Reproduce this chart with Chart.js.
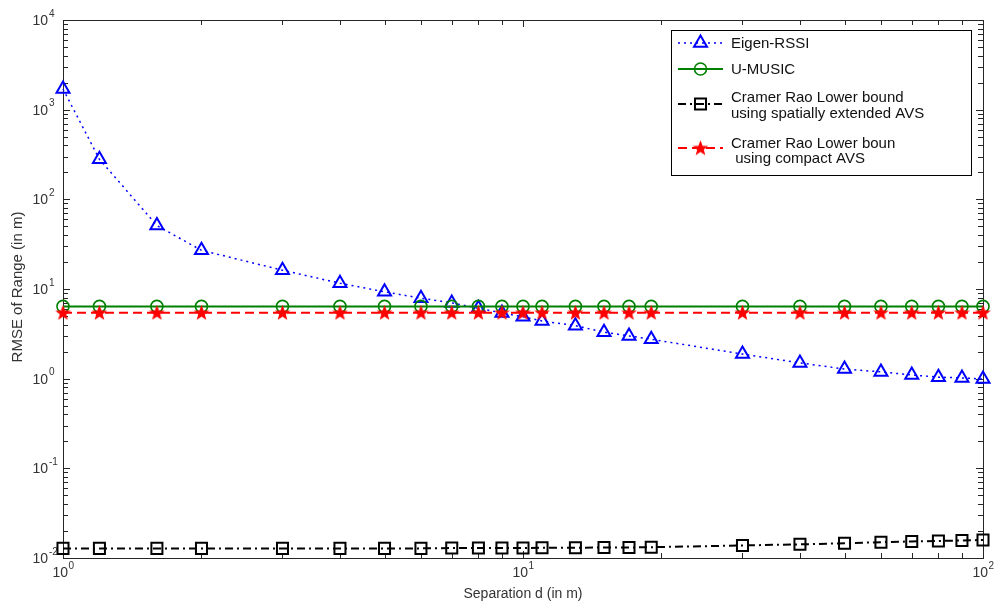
<!DOCTYPE html>
<html><head><meta charset="utf-8">
<script src="https://cdn.jsdelivr.net/npm/chart.js@4.4.1/dist/chart.umd.min.js"></script>
<style>html,body{margin:0;padding:0;background:#fff}canvas{display:block}</style>
</head><body>
<canvas id="c" width="1000" height="610"></canvas>
<script>
// ---- data ----
const separation = [1, 1.2, 1.6, 2, 3, 4, 5, 6, 7, 8, 9, 10, 11, 13, 15, 17, 19, 30, 40, 50, 60, 70, 80, 90, 100];
const eigenRSSI = [1700, 280, 51, 27, 16.2, 11.6, 9.3, 7.9, 7.0, 6.1, 5.4, 4.9, 4.4, 3.9, 3.3, 3.0, 2.75, 1.88, 1.5, 1.28, 1.19, 1.1, 1.04, 1.02, 0.99];
const uMusic = [6.4, 6.4, 6.4, 6.4, 6.4, 6.4, 6.4, 6.4, 6.4, 6.4, 6.4, 6.4, 6.4, 6.4, 6.4, 6.4, 6.4, 6.4, 6.4, 6.4, 6.4, 6.4, 6.4, 6.4, 6.4];
const crlbExtended = [0.0128, 0.0128, 0.0128, 0.0128, 0.0128, 0.0128, 0.0128, 0.0128, 0.0129, 0.0129, 0.0129, 0.0129, 0.013, 0.013, 0.0131, 0.0131, 0.0132, 0.0138, 0.0142, 0.0146, 0.015, 0.0153, 0.0155, 0.0157, 0.0159];
const crlbCompact = [5.45, 5.45, 5.45, 5.45, 5.45, 5.45, 5.45, 5.45, 5.45, 5.45, 5.45, 5.45, 5.45, 5.45, 5.45, 5.45, 5.45, 5.45, 5.45, 5.45, 5.45, 5.45, 5.45, 5.45, 5.45];
const seriesLabels = ['Eigen-RSSI', 'U-MUSIC', 'Cramer Rao Lower bound\nusing spatially extended AVS', 'Cramer Rao Lower boun\n using compact AVS'];
const xTickExponents = [0, 1, 2];
const yTickExponents = [-2, -1, 0, 1, 2, 3, 4];
const xTitle = 'Separation d (in m)';
const yTitle = 'RMSE of Range (in m)';

// ---- pentagram marker ----
function makeStar(color, R) {
  const s = Math.ceil(R * 2 + 4);
  const cv = document.createElement('canvas');
  cv.width = s; cv.height = s;
  const c = cv.getContext('2d');
  const cx = s / 2, cy = s / 2 + 0.5, r = R * 0.42;
  c.beginPath();
  for (let i = 0; i < 10; i++) {
    const a = -Math.PI / 2 + i * Math.PI / 5;
    const rr = i % 2 === 0 ? R : r;
    const px = cx + rr * Math.cos(a), py = cy + rr * Math.sin(a);
    i === 0 ? c.moveTo(px, py) : c.lineTo(px, py);
  }
  c.closePath();
  c.fillStyle = color; c.fill();
  c.strokeStyle = color; c.lineWidth = 1.2; c.stroke();
  return cv;
}
const starImg = makeStar('#ff0000', 6.5);

const pts = arr => separation.map((x, i) => ({x, y: arr[i]}));

const datasets = [
  {label: seriesLabels[0], data: pts(eigenRSSI), borderColor: '#0000ff', backgroundColor: 'rgba(0,0,0,0)',
   borderWidth: 1.5, borderDash: [2, 4], pointStyle: 'triangle', pointRadius: 7.5, pointBorderWidth: 2,
   pointBorderColor: '#0000ff', pointBackgroundColor: 'rgba(0,0,0,0)', order: 3},
  {label: seriesLabels[1], data: pts(uMusic), borderColor: '#008000', backgroundColor: 'rgba(0,0,0,0)',
   borderWidth: 2, pointStyle: 'circle', pointRadius: 6, pointBorderWidth: 1.6,
   pointBorderColor: '#008000', pointBackgroundColor: 'rgba(0,0,0,0)', order: 2},
  {label: seriesLabels[2], data: pts(crlbExtended), borderColor: '#000000', backgroundColor: 'rgba(0,0,0,0)',
   borderWidth: 2, borderDash: [8, 4, 2, 4], pointStyle: 'rect', pointRadius: 7.8, pointBorderWidth: 2,
   pointBorderColor: '#000000', pointBackgroundColor: 'rgba(0,0,0,0)', order: 1},
  {label: seriesLabels[3], data: pts(crlbCompact), borderColor: '#ff0000', backgroundColor: 'rgba(0,0,0,0)',
   borderWidth: 2, borderDash: [9, 5], pointStyle: starImg, pointRadius: 6.5,
   pointBorderColor: '#ff0000', pointBackgroundColor: '#ff0000', order: 0}
];
datasets.forEach(d => { d.clip = false; d.tension = 0; d.fill = false; });

const FONT = '"Liberation Sans", Arial, Helvetica, sans-serif';

function drawMarker(ctx, ds, x, y) {
  const st = ds.pointStyle, r = ds.pointRadius;
  ctx.save();
  ctx.setLineDash([]);
  ctx.strokeStyle = ds.pointBorderColor;
  ctx.lineWidth = ds.pointBorderWidth || 1;
  ctx.beginPath();
  if (st === 'triangle') {
    let a = 0;
    ctx.moveTo(x + Math.sin(a) * r, y - Math.cos(a) * r);
    a += 2 * Math.PI / 3; ctx.lineTo(x + Math.sin(a) * r, y - Math.cos(a) * r);
    a += 2 * Math.PI / 3; ctx.lineTo(x + Math.sin(a) * r, y - Math.cos(a) * r);
    ctx.closePath(); ctx.stroke();
  } else if (st === 'circle') {
    ctx.arc(x, y, r, 0, Math.PI * 2); ctx.stroke();
  } else if (st === 'rect') {
    const s = r * Math.SQRT1_2; ctx.rect(x - s, y - s, 2 * s, 2 * s); ctx.stroke();
  } else if (st instanceof HTMLCanvasElement) {
    ctx.drawImage(st, x - st.width / 2, y - st.height / 2);
  }
  ctx.restore();
}

const axesPlugin = {
  id: 'matlabAxes',
  beforeDatasetsDraw(chart) {
    const {ctx, chartArea: a, scales: {x, y}} = chart;
    ctx.save();
    ctx.strokeStyle = '#262626';
    ctx.lineWidth = 1;
    ctx.strokeRect(Math.round(a.left) + 0.5, Math.round(a.top) + 0.5, Math.round(a.right - a.left), Math.round(a.bottom - a.top));
    ctx.beginPath();
    for (let e = xTickExponents[0]; e <= xTickExponents[xTickExponents.length - 1]; e++) {
      for (let m = 1; m <= 9; m++) {
        const v = m * Math.pow(10, e);
        if (v < x.min - 1e-9 || v > x.max + 1e-9) continue;
        const px = Math.round(x.getPixelForValue(v)) + 0.5;
        const len = m === 1 ? 7 : 5;
        ctx.moveTo(px, a.bottom); ctx.lineTo(px, a.bottom - len);
        ctx.moveTo(px, a.top); ctx.lineTo(px, a.top + len);
      }
    }
    for (let e = yTickExponents[0]; e <= yTickExponents[yTickExponents.length - 1]; e++) {
      for (let m = 1; m <= 9; m++) {
        const v = m * Math.pow(10, e);
        if (v < y.min * 0.999999 || v > y.max * 1.000001) continue;
        const py = Math.round(y.getPixelForValue(v)) + 0.5;
        const len = m === 1 ? 7 : 5;
        ctx.moveTo(a.left, py); ctx.lineTo(a.left + len, py);
        ctx.moveTo(a.right, py); ctx.lineTo(a.right - len, py);
      }
    }
    ctx.stroke();

    // tick labels
    ctx.fillStyle = '#333333';
    ctx.textBaseline = 'middle';
    yTickExponents.forEach(e => {
      const py = y.getPixelForValue(Math.pow(10, e));
      ctx.font = '14px ' + FONT;
      ctx.textAlign = 'right';
      ctx.fillText('10', 48, py + 1);
      ctx.font = '10px ' + FONT;
      ctx.textAlign = 'left';
      ctx.fillText(String(e), 49, py - 6);
    });
    xTickExponents.forEach(e => {
      const px = x.getPixelForValue(Math.pow(10, e));
      ctx.font = '14px ' + FONT;
      const w1 = ctx.measureText('10').width;
      ctx.font = '10px ' + FONT;
      const w2 = ctx.measureText(String(e)).width;
      const left = px - (w1 + w2) / 2;
      ctx.textAlign = 'left';
      ctx.font = '14px ' + FONT;
      ctx.fillText('10', left, a.bottom + 15);
      ctx.font = '10px ' + FONT;
      ctx.fillText(String(e), left + w1 + 0.5, a.bottom + 8);
    });
    // axis titles
    ctx.font = '14px ' + FONT;
    ctx.textAlign = 'center';
    ctx.fillText(xTitle, (a.left + a.right) / 2, a.bottom + 36);
    ctx.save();
    ctx.translate(18, (a.top + a.bottom) / 2 - 2);
    ctx.rotate(-Math.PI / 2);
    ctx.font = '15px ' + FONT;
    ctx.fillText(yTitle, 0, 0);
    ctx.restore();
    ctx.restore();
  },
  afterDatasetsDraw(chart) {
    const {ctx} = chart;
    const box = {l: 671, t: 30, w: 300, h: 145};
    ctx.save();
    ctx.fillStyle = '#ffffff';
    ctx.fillRect(box.l, box.t, box.w, box.h);
    ctx.strokeStyle = '#000000';
    ctx.lineWidth = 1;
    ctx.strokeRect(box.l + 0.5, box.t + 0.5, box.w, box.h);
    const rows = [
      {ly: 43, ty: [43]},
      {ly: 69, ty: [69]},
      {ly: 104, ty: [97, 113]},
      {ly: 148, ty: [143, 158]}
    ];
    chart.data.datasets.forEach((ds, i) => {
      const r = rows[i];
      ctx.save();
      ctx.strokeStyle = ds.borderColor;
      ctx.lineWidth = ds.borderWidth;
      ctx.setLineDash(ds.borderDash || []);
      ctx.beginPath();
      ctx.moveTo(678, r.ly); ctx.lineTo(723, r.ly);
      ctx.stroke();
      ctx.restore();
      drawMarker(ctx, ds, 700.5, r.ly);
      ctx.fillStyle = '#111111';
      ctx.font = '15px ' + FONT;
      ctx.textAlign = 'left';
      ctx.textBaseline = 'middle';
      ds.label.split('\n').forEach((t, k) => ctx.fillText(t, 731, r.ty[k] + 1));
    });
    ctx.restore();
  }
};

new Chart(document.getElementById('c'), {
  type: 'line',
  data: {datasets},
  options: {
    responsive: false,
    animation: false,
    devicePixelRatio: 1,
    parsing: true,
    layout: {padding: {left: 63, right: 17, top: 20, bottom: 52}},
    plugins: {legend: {display: false}, tooltip: {enabled: false}, title: {display: false}},
    scales: {
      x: {type: 'logarithmic', min: 1, max: 100, display: false},
      y: {type: 'logarithmic', min: 0.01, max: 10000, display: false}
    }
  },
  plugins: [axesPlugin]
});
</script>
</body></html>
